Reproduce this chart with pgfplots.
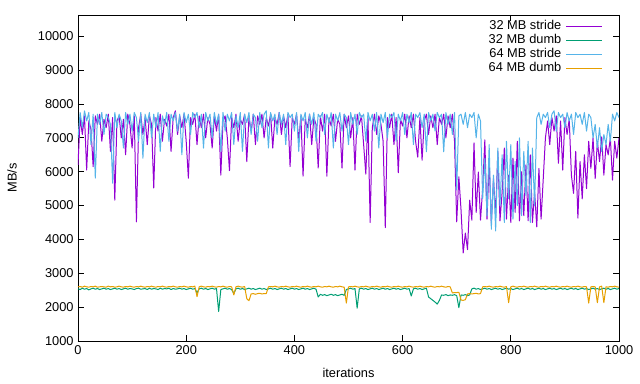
\documentclass[border=0pt]{standalone}
\usepackage{fontspec}
\setmainfont{Liberation Sans}
\usepackage{pgfplots}
\usepackage{pgfplotstable}
\pgfplotsset{compat=1.18}
\definecolor{gpurple}{HTML}{9400D3}
\definecolor{ggreen}{HTML}{009E73}
\definecolor{gblue}{HTML}{56B4E9}
\definecolor{gorange}{HTML}{E69F00}
\pgfplotstableread{
x s32 d32 s64 d64
0 6200 2540 7000 2600
4 7600 2520 7750 2610
8 7100 2560 7300 2590
12 7650 2530 7800 2620
16 6050 2550 7500 2600
20 7500 2510 7750 2590
24 7250 2540 6800 2610
28 6150 2560 7700 2600
32 7650 2530 5810 2620
36 7400 2550 7700 2590
40 7700 2520 7400 2600
44 6900 2540 7750 2610
48 7550 2560 7100 2600
52 7300 2530 7700 2590
56 7700 2550 7600 2620
60 6600 2520 7400 2600
64 7600 2540 5660 2610
68 5160 2560 7750 2590
72 7500 2530 7300 2600
76 7650 2550 7700 2620
80 7000 2520 7500 2600
84 7550 2540 6700 2590
88 6500 2560 7750 2610
92 7700 2530 7400 2600
96 7400 2550 7700 2620
100 6700 2540 7200 2600
104 7650 2520 7750 2590
108 4520 2550 7600 2610
112 7300 2560 6900 2600
116 7700 2530 7750 2620
120 7100 2540 6400 2600
124 7600 2550 7700 2590
128 6800 2520 7450 2610
132 7650 2560 7750 2600
136 7400 2530 7000 2620
140 5520 2550 7700 2600
144 7600 2540 7300 2590
148 7200 2520 7750 2610
152 7700 2560 6600 2600
156 6900 2530 7650 2620
160 7550 2550 7400 2600
164 7350 2540 7750 2590
168 7700 2560 6900 2610
172 6600 2520 7700 2600
176 7600 2550 7500 2620
180 7800 2530 7750 2600
184 7100 2540 7200 2590
188 7650 2560 7700 2610
192 7300 2530 6500 2600
196 7700 2550 7750 2620
200 6900 2520 7450 2600
204 5810 2540 7700 2590
208 7600 2560 7100 2610
212 7400 2530 7750 2600
216 7700 2550 7600 2620
220 6800 2420 7750 2310
224 7650 2540 7300 2600
228 7300 2560 7700 2620
232 7700 2530 6700 2600
236 7000 2550 7750 2590
240 7600 2520 7500 2610
244 7400 2540 7700 2600
248 6700 2560 7000 2620
252 7650 2530 7750 2600
256 7200 2550 7400 2590
260 7700 1870 7700 2610
264 5900 2520 6600 2600
268 7500 2540 7750 2620
272 7650 2560 7200 2600
276 7000 2530 7700 2590
280 6030 2550 7500 2610
284 7600 2520 7750 2600
288 7300 2400 6800 2360
292 7700 2540 7650 2600
296 6900 2560 7300 2620
300 7550 2530 7750 2600
304 7400 2550 6600 2590
308 7700 2520 7700 2610
312 6300 2540 7450 2250
316 7600 2560 7750 2190
320 7200 2530 7100 2390
324 7700 2550 7700 2400
328 6800 2520 7600 2380
332 7650 2540 6900 2400
336 7400 2560 7750 2410
340 7700 2530 7300 2390
344 7000 2550 7700 2400
348 7600 2520 7800 2400
352 7350 2540 6700 2600
356 7700 2560 7750 2610
360 6700 2530 7500 2600
364 7600 2550 7700 2620
368 7400 2520 7100 2600
372 7750 2540 7750 2590
376 7100 2560 7400 2610
380 7650 2530 7700 2600
384 7300 2550 6800 2620
388 7700 2520 7750 2600
392 6150 2540 7600 2590
396 7600 2560 7700 2610
400 7400 2530 7200 2600
404 7700 2550 7750 2620
408 6900 2520 6600 2600
412 7650 2540 7700 2590
416 5870 2560 7500 2610
420 7550 2530 7750 2600
424 7300 2550 7000 2620
428 7700 2520 7700 2600
432 6800 2540 7400 2590
436 7600 2560 7750 2610
440 7400 2530 6900 2600
444 6110 2300 7700 2620
448 7650 2380 7600 2600
452 7200 2350 7750 2590
456 7700 2370 7100 2610
460 5870 2340 7700 2600
464 7600 2360 7450 2620
468 7350 2380 7750 2600
472 7700 2350 6700 2590
476 6900 2370 7700 2610
480 7550 2340 7500 2600
484 7400 2360 7750 2620
488 6110 2380 7200 2600
492 7700 2350 7700 2590
496 7300 2520 7600 2120
500 7650 2540 6800 2600
504 7000 2560 7750 2610
508 7600 2530 7400 2600
512 6050 2550 7700 2620
516 7700 1970 7100 2600
520 7400 2540 7750 2590
524 7650 2560 7600 2610
528 6800 2530 7700 2600
532 5930 2550 6900 2620
536 7600 2520 7750 2600
540 4500 2540 7500 2590
544 7300 2560 7700 2610
548 7700 2530 7200 2600
552 7100 2550 7750 2620
556 7650 2520 6700 2600
560 7400 2540 7700 2590
564 6900 2560 7450 2610
568 4350 2530 7750 2600
572 7600 2550 7000 2620
576 7300 2520 7700 2600
580 7700 2540 7600 2590
584 6800 2560 7750 2610
588 7600 2530 6900 2600
592 5970 2550 7700 2620
596 7550 2520 7500 2600
600 7350 2540 7750 2590
604 7700 2560 7100 2610
608 7000 2530 7700 2600
612 7650 2550 7450 2620
616 7300 2330 7750 2600
620 7700 2540 6800 2590
624 6900 2560 7700 2610
628 6430 2530 7600 2600
632 7600 2550 7750 2620
636 6340 2520 7300 2600
640 7500 2540 7700 2590
644 7700 2560 6590 2610
648 7100 2300 7750 2600
652 7650 2250 7500 2620
656 7300 2200 7700 2600
660 7700 2150 7200 2590
664 6800 2090 7750 2610
668 7600 2200 7600 2600
672 7400 2360 7700 2620
676 7700 2350 6590 2600
680 7000 2370 7750 2590
684 7650 2340 7400 2610
688 7300 2360 7700 2600
692 7700 2350 7100 2420
696 6890 2370 7750 2430
700 4520 2340 5460 2430
704 5850 1985 7650 2440
708 4870 2360 7700 2210
712 3600 2350 7400 2200
716 4190 2370 7750 2220
720 3700 2340 7300 2390
724 5160 2360 7700 2400
728 4570 2540 7600 2390
732 6850 2560 7750 2400
736 4800 2530 7000 2410
740 5990 2550 7700 2390
744 4570 2520 7500 2400
748 5500 2540 5200 2600
752 6940 2560 6400 2610
756 4600 2530 4700 2600
760 6300 2550 6800 2620
764 4480 2520 4300 2600
768 5800 2540 5900 2590
772 4700 2560 4250 2610
776 6600 2530 6700 2600
780 4550 2550 5000 2620
784 5400 2520 6500 2600
788 6700 2540 4500 2590
792 4600 2560 6900 2610
796 5900 2530 5200 2130
800 4500 2550 6800 2600
804 6400 2520 4600 2620
808 4800 2540 6300 2600
812 6900 2560 5000 2590
816 4550 2530 7000 2610
820 6000 2550 4700 2600
824 4700 2520 6600 2620
828 6200 2540 5300 2600
832 4550 2560 6900 2590
836 6500 2530 4500 2610
840 4500 2550 6700 2600
844 5400 2520 5000 2620
848 4370 2540 7600 2600
852 6100 2560 7750 2590
856 4600 2530 7400 2610
860 5800 2550 7700 2600
864 7000 2520 7600 2620
868 7500 2540 7750 2600
872 6800 2560 7300 2590
876 7600 2530 7700 2610
880 7200 2550 7800 2600
884 7650 2520 7200 2620
888 6250 2540 7750 2600
892 7500 2560 7600 2590
896 6050 2530 7700 2610
900 7600 2550 7300 2600
904 7100 2520 7750 2620
908 7550 2540 7500 2600
912 5900 2560 7700 2590
916 5360 2530 7100 2610
920 6600 2550 7750 2600
924 4630 2520 7600 2620
928 6300 2540 7700 2600
932 5200 2560 7400 2590
936 6500 2530 7750 2610
940 5500 2550 7200 2600
944 6900 2520 7700 2120
948 6100 2540 7600 2600
952 7000 2560 7000 2610
956 5800 2530 7400 2600
960 6900 2550 6700 2130
964 6300 2520 7300 2600
968 7030 2540 6600 2620
972 5900 2560 7100 2130
976 6800 2530 6800 2600
980 6500 2550 7400 2590
984 7000 2520 6900 2610
988 5750 2540 7700 2600
992 6900 2560 7500 2620
996 6400 2530 7750 2600
1000 7000 2550 7600 2590
}\datatable
\begin{document}
\fontsize{12.8bp}{15bp}\selectfont
\begin{tikzpicture}
\begin{axis}[
  name=ax,
  scale only axis,
  width=541bp, height=326bp,
  xmin=0, xmax=1000, ymin=1000, ymax=10630,
  xtick={0,200,...,1000},
  ytick={1000,2000,...,10000},
  scaled ticks=false,
  tick align=inside,
  tick pos=both,
  major tick length=6bp,
  minor tick num=0,
  axis line style={line width=0.9bp},
  every tick/.style={black, line width=0.9bp},
  /pgf/number format/assume math mode=true,
  /pgf/number format/1000 sep={},
  ticklabel style={font=\fontsize{12.8bp}{15bp}\selectfont},
  xlabel={iterations},
  ylabel={MB/s},
  x label style={at={(axis description cs:0.5,-0.098)},anchor=center},
  y label style={at={(axis description cs:-0.122,0.5)},anchor=center},
  legend style={draw=none, fill=none, at={(1,1)}, anchor=north east,
    xshift=-16bp, yshift=-4bp, inner sep=0pt,
    nodes={inner sep=1.5bp, text height=8.9bp, text depth=2.1bp},
    /tikz/every odd column/.append style={column sep=3bp}},
  legend plot pos=right,
  legend cell align=right,
]
\addlegendimage{gpurple, line width=1bp, legend image code/.code={\draw[gpurple, line width=1bp] (0bp,0bp) -- (36bp,0bp);}}
\addlegendentry{32 MB stride}
\addlegendimage{ggreen, line width=1bp, legend image code/.code={\draw[ggreen, line width=1bp] (0bp,0bp) -- (36bp,0bp);}}
\addlegendentry{32 MB dumb}
\addlegendimage{gblue, line width=1bp, legend image code/.code={\draw[gblue, line width=1bp] (0bp,0bp) -- (36bp,0bp);}}
\addlegendentry{64 MB stride}
\addlegendimage{gorange, line width=1bp, legend image code/.code={\draw[gorange, line width=1bp] (0bp,0bp) -- (36bp,0bp);}}
\addlegendentry{64 MB dumb}
\addplot[gpurple, line width=1bp, line join=round, no marks, forget plot] table[x=x, y=s32] {\datatable};
\addplot[ggreen, line width=1bp, line join=round, no marks, forget plot] table[x=x, y=d32] {\datatable};
\addplot[gblue, line width=1bp, line join=round, no marks, forget plot] table[x=x, y=s64] {\datatable};
\addplot[gorange, line width=1bp, line join=round, no marks, forget plot] table[x=x, y=d64] {\datatable};
\end{axis}
\pgfresetboundingbox
\path[use as bounding box] ([shift={(-78bp,-43bp)}]ax.south west) rectangle ([shift={(21bp,15bp)}]ax.north east);
\end{tikzpicture}
\end{document}
